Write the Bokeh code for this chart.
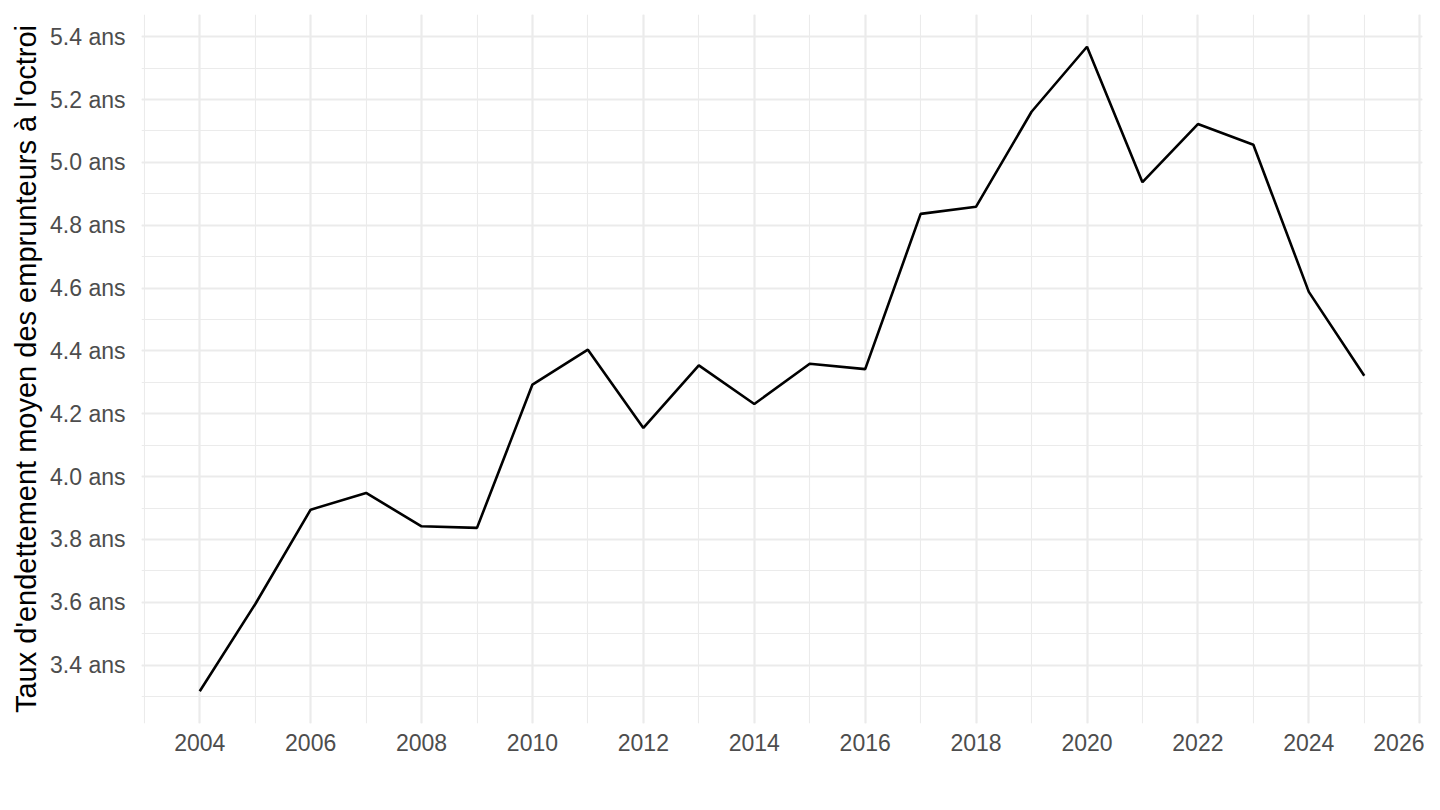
from bokeh.plotting import figure
from bokeh.models import SingleIntervalTicker, PrintfTickFormatter, Range1d
from bokeh.embed import file_html
from bokeh.resources import INLINE

years = [2004, 2005, 2006, 2007, 2008, 2009, 2010, 2011, 2012, 2013, 2014,
         2015, 2016, 2017, 2018, 2019, 2020, 2021, 2022, 2023, 2024, 2025]
taux = [3.317, 3.594, 3.895, 3.948, 3.842, 3.837, 4.293, 4.404, 4.155, 4.354, 4.231,
        4.359, 4.342, 4.836, 4.859, 5.161, 5.368, 4.937, 5.122, 5.056, 4.588, 4.321]
y_title = "Taux d'endettement moyen des emprunteurs à l'octroi"

xpad = 0.05 * (max(years) - min(years))
ypad = 0.05 * (max(taux) - min(taux))

p = figure(width=1424, height=794, output_backend="svg", toolbar_location=None,
           x_range=Range1d(min(years) - xpad, max(years) + xpad),
           y_range=Range1d(min(taux) - ypad, max(taux) + ypad),
           min_border_left=141, min_border_right=2, min_border_top=14, min_border_bottom=71)
p.outline_line_color = None
p.background_fill_color = "white"
p.border_fill_color = "white"

p.xaxis.ticker = SingleIntervalTicker(interval=2, num_minor_ticks=2)
p.yaxis.ticker = SingleIntervalTicker(interval=0.2, num_minor_ticks=2)
p.yaxis.formatter = PrintfTickFormatter(format="%.1f ans")

for ax in (p.xaxis[0], p.yaxis[0]):
    ax.axis_line_color = None
    ax.major_tick_line_color = None
    ax.minor_tick_line_color = None
    ax.major_tick_out = 0
    ax.major_tick_in = 0
    ax.minor_tick_out = 0
    ax.minor_tick_in = 0
    ax.major_label_text_font = "Liberation Sans"
    ax.major_label_text_font_size = "23px"
    ax.major_label_text_color = "#4D4D4D"

p.xaxis.major_label_standoff = 10
p.yaxis.major_label_standoff = 16
p.yaxis.axis_label = y_title
p.yaxis.axis_label_text_font = "Liberation Sans"
p.yaxis.axis_label_text_font_size = "29px"
p.yaxis.axis_label_text_font_style = "normal"
p.yaxis.axis_label_text_color = "black"
p.yaxis.axis_label_standoff = 5

for g in (p.xgrid[0], p.ygrid[0]):
    g.grid_line_color = "#EBEBEB"
    g.grid_line_width = 2.2
    g.minor_grid_line_color = "#EBEBEB"
    g.minor_grid_line_width = 1.1

p.line(years, taux, line_color="black", line_width=2.6)

open("out.html", "w").write(file_html(p, INLINE))
